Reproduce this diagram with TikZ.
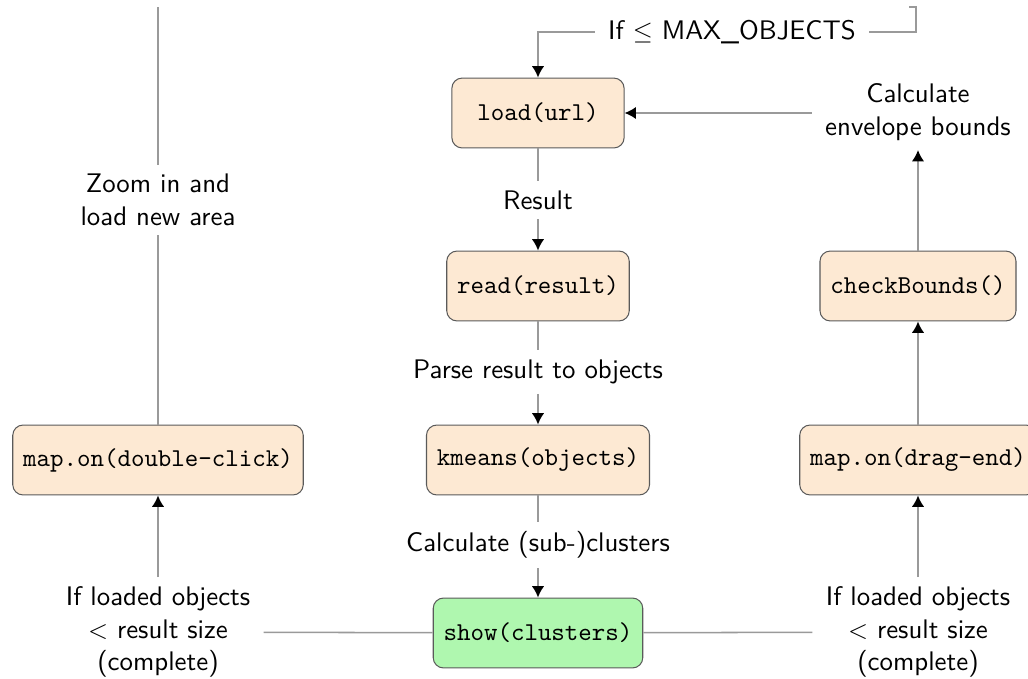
\documentclass[tikz,border=0pt]{standalone}
\usetikzlibrary{arrows.meta}
\renewcommand{\familydefault}{\sfdefault}
\definecolor{boxfill}{HTML}{FDE9D3}
\definecolor{greenfill}{HTML}{AFF7AF}
\definecolor{boxdraw}{HTML}{5A5A5A}
\definecolor{linecol}{HTML}{9A9A9A}
\tikzset{
  fn/.style={draw=boxdraw, line width=0.4pt, fill=boxfill, rounded corners=4pt,
    font=\ttfamily, minimum height=27.2pt, minimum width=67pt, inner xsep=4pt},
  fngreen/.style={fn, fill=greenfill},
  lbl/.style={align=center, inner xsep=5pt, inner ysep=3.6pt, font=\fontsize{10.45pt}{12.6pt}\selectfont},
  conn/.style={draw=linecol, line width=0.6pt},
  arr/.style={conn, -{Latex[length=4.4pt,width=4.8pt,color=black]}},
}
\begin{document}
\begin{tikzpicture}[x=0.389pt, y=-0.389pt]
\useasboundingbox (0,0) rectangle (1028,679);
\clip (0,0) rectangle (1028,679);
% boxes
\node[fn] (load) at (538,113) {load(url)};
\node[fn] (read) at (538,286) {read(result)};
\node[fn] (kmeans) at (538,460) {kmeans(objects)};
\node[fngreen] (show) at (538,633) {show(clusters)};
\node[fn] (dbl) at (158,460) {map.on(double-click)};
\node[fn] (drag) at (918,460) {map.on(drag-end)};
\node[fn] (check) at (918,286) {checkBounds()};
% labels
\node[lbl] (lresult) at (538,200) {Result};
\node[lbl] (lparse) at (538,372) {Parse result to objects};
\node[lbl] (lcalc) at (538,545) {Calculate (sub-)clusters};
\node[lbl] (lzoom) at (158,200) {Zoom in and\\load new area};
\node[lbl] (lenv) at (918,112) {Calculate\\envelope bounds};
\node[lbl] (lleft) at (158,632) {If loaded objects\\$<$ result size\\(complete)};
\node[lbl] (lright) at (918,632) {If loaded objects\\$<$ result size\\(complete)};
\node[lbl] (lmax) at (732,32) {If $\leq$ MAX\_OBJECTS};
\coordinate (topl) at (158,7);
\coordinate (topr) at (916,7);
\coordinate (tick) at (909,7);
% connectors
\draw[conn] (load) -- (lresult);
\draw[arr] (lresult) -- (read);
\draw[conn] (read) -- (lparse);
\draw[arr] (lparse) -- (kmeans);
\draw[conn] (kmeans) -- (lcalc);
\draw[arr] (lcalc) -- (show);
\draw[conn] (show) -- (lleft);
\draw[arr] (lleft) -- (dbl);
\draw[conn] (dbl) -- (lzoom);
\draw[conn] (lzoom) -- (topl);
\draw[conn] (show) -- (lright);
\draw[arr] (lright) -- (drag);
\draw[arr] (drag) -- (check);
\draw[arr] (check) -- (lenv);
\draw[arr] (lenv.west |- load.east) -- (load.east);
\draw[conn] (tick) -- (topr) |- (lmax.east);
\draw[arr] (lmax.west) -| (load.north);
\end{tikzpicture}
\end{document}
